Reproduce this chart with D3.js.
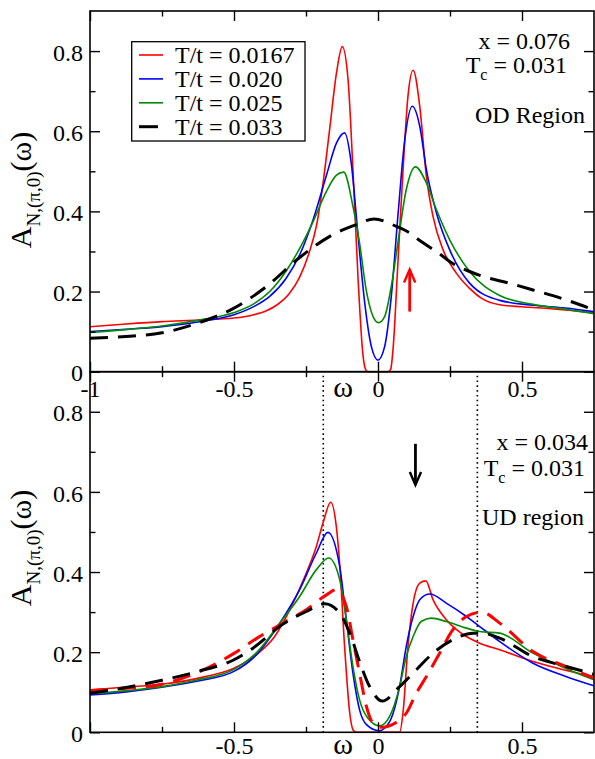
<!DOCTYPE html>
<html>
<head>
<meta charset="utf-8">
<script src="https://cdn.jsdelivr.net/npm/d3@7"></script>
<style>
  body { margin: 0; background: #fff; }
  svg { display: block; }
  svg text { font-family: "Liberation Serif", "Tinos", "Times New Roman", "Times", "Nimbus Roman", "DejaVu Serif", "Noto Serif", serif !important; fill: #000; }
</style>
</head>
<body>
<svg id="chart" width="595" height="759"></svg>
<script>
// ---- axis ticks -------------------------------------------------------
const xMajor = [-1, -0.5, 0, 0.5];
const xMinor = [-0.75, -0.25, 0.25];
const yMajor = [0, 0.2, 0.4, 0.6, 0.8];
const yMinor = [0.1, 0.3, 0.5, 0.7];
const xLabelsTop = ["-1", "-0.5", "0", "0.5"];
const xLabelValsBottom = [-0.5, 0, 0.5];
const xLabelsBottom = ["-0.5", "0", "0.5"];
const yLabels = ["0", "0.2", "0.4", "0.6", "0.8"];

// ---- legend -------------------------------------------------------------
const legendNames = ["T/t = 0.0167", "T/t = 0.020", "T/t = 0.025", "T/t = 0.033"];
const seriesColors = ["#ff0000", "#0000ff", "#008b00", "#000000"];

// ---- OD region (x = 0.076) : [omega, A] --------------------------------
const odT0167 = [[-1,0.112],[-0.875,0.119],[-0.75,0.125],[-0.625,0.129],[-0.5,0.134],[-0.4375,0.141],
  [-0.3875,0.152],[-0.35,0.167],[-0.31,0.193],[-0.272,0.236],[-0.24,0.295],[-0.212,0.37],[-0.19,0.475],
  [-0.168,0.604],[-0.144,0.746],[-0.124,0.811],[-0.104,0.729],[-0.087,0.504],[-0.069,0.229],
  [-0.052,0.04],[-0.042,0.004],[-0.035,0],[0.035,0],[0.044,0.006],[0.052,0.054],[0.069,0.27],[0.087,0.504],
  [0.104,0.687],[0.122,0.752],[0.145,0.662],[0.168,0.4875],[0.191,0.3875],[0.226,0.304],[0.272,0.246],
  [0.318,0.208],[0.36,0.183],[0.4226,0.167],[0.5,0.162],[0.6,0.157],[0.75,0.147]];
const odT020 = [[-1,0.1],[-0.875,0.106],[-0.75,0.1125],[-0.625,0.124],[-0.5,0.142],[-0.43,0.163],
  [-0.376,0.188],[-0.32,0.232],[-0.27,0.295],[-0.225,0.38],[-0.179,0.49],[-0.144,0.571],[-0.116,0.596],[-0.093,0.521],
  [-0.069,0.3375],[-0.046,0.171],[-0.023,0.0625],[0,0.029],[0.023,0.0625],[0.046,0.1875],[0.069,0.3875],
  [0.093,0.579],[0.119,0.6625],[0.145,0.6125],[0.168,0.504],[0.203,0.396],[0.249,0.304],[0.318,0.221],
  [0.4226,0.178],[0.538,0.166],[0.65,0.159],[0.75,0.15]];
const odT025 = [[-1,0.098],[-0.875,0.105],[-0.75,0.114],[-0.625,0.128],[-0.5,0.1475],[-0.43,0.17],
  [-0.376,0.2],[-0.32,0.25],[-0.27,0.31],[-0.225,0.375],[-0.179,0.45],[-0.145,0.49],[-0.119,0.498],[-0.087,0.4125],
  [-0.064,0.321],[-0.041,0.204],[-0.017,0.1375],[0.002,0.1225],[0.023,0.1375],[0.046,0.2125],[0.069,0.321],
  [0.098,0.454],[0.13,0.511],[0.168,0.471],[0.203,0.404],[0.249,0.329],[0.318,0.25],[0.4226,0.19],
  [0.538,0.168],[0.65,0.156],[0.75,0.145]];
const odT033 = [[-1,0.0835],[-0.875,0.088],[-0.75,0.097],[-0.619,0.123],[-0.5,0.1585],[-0.3875,0.2125],
  [-0.272,0.285],[-0.157,0.342],[-0.075,0.367],[-0.014,0.381],[0.064,0.3625],[0.11,0.346],[0.133,0.3335],
  [0.226,0.2875],[0.249,0.275],[0.318,0.25],[0.365,0.2375],[0.45,0.222],[0.538,0.204],[0.65,0.18],[0.75,0.154]];

// ---- UD region (x = 0.034) : [omega, A] --------------------------------
const udT0167 = [[-1,0.106],[-0.875,0.113],[-0.75,0.12],[-0.6,0.139],[-0.5,0.16],[-0.42,0.195],[-0.36,0.238],
  [-0.3,0.315],[-0.249,0.3975],[-0.214,0.464],[-0.191,0.5225],[-0.164,0.574],[-0.145,0.515],[-0.133,0.42],
  [-0.116,0.214],[-0.098,0.0475],[-0.086,0.005],[-0.075,0],[0.075,0],[0.087,0.05],[0.104,0.214],[0.122,0.3225],
  [0.145,0.3725],[0.166,0.378],[0.191,0.331],[0.237,0.281],[0.307,0.239],[0.353,0.2225],[0.4226,0.206],
  [0.538,0.1765],[0.65,0.155],[0.75,0.139]];
const udT020 = [[-1,0.093],[-0.875,0.101],[-0.75,0.1125],[-0.625,0.128],[-0.5,0.152],[-0.42,0.195],
  [-0.341,0.2725],[-0.272,0.356],[-0.214,0.4475],[-0.174,0.499],[-0.133,0.414],[-0.11,0.281],[-0.087,0.1475],
  [-0.064,0.056],[-0.04,0.019],[0.0035,0.004],[0.04,0.026],[0.075,0.114],[0.098,0.214],[0.122,0.289],
  [0.145,0.331],[0.18,0.345],[0.237,0.3225],[0.307,0.289],[0.353,0.264],[0.4226,0.2265],[0.538,0.1725],
  [0.65,0.14],[0.75,0.116]];
const udT025 = [[-1,0.096],[-0.875,0.104],[-0.75,0.114],[-0.625,0.131],[-0.5,0.157],[-0.42,0.2],
  [-0.341,0.2725],[-0.272,0.339],[-0.214,0.406],[-0.171,0.435],[-0.133,0.381],[-0.11,0.281],[-0.087,0.164],
  [-0.064,0.081],[-0.035,0.035],[0.006,0.016],[0.04,0.039],[0.075,0.114],[0.098,0.189],[0.122,0.239],
  [0.15,0.2765],[0.185,0.285],[0.237,0.2765],[0.307,0.26],[0.353,0.2515],[0.4226,0.2475],[0.538,0.1975],
  [0.65,0.16],[0.75,0.131]];
const udT033 = [[-1,0.0975],[-0.875,0.112],[-0.75,0.13],[-0.625,0.152],[-0.5,0.181],[-0.434,0.21],[-0.33,0.27],
  [-0.249,0.3015],[-0.185,0.321],[-0.133,0.2975],[-0.098,0.2475],[-0.064,0.1765],[-0.029,0.114],[0.015,0.078],
  [0.075,0.114],[0.133,0.156],[0.191,0.1975],[0.26,0.231],[0.33,0.2475],[0.36,0.2475],[0.4226,0.235],
  [0.538,0.189],[0.65,0.165],[0.75,0.145]];
// second (red, dashed) curve shown only in the UD panel
const udT0167b = [[-1,0.104],[-0.875,0.11],[-0.75,0.12],[-0.625,0.15],[-0.5,0.197],[-0.42,0.235],[-0.33,0.2725],
  [-0.249,0.306],[-0.179,0.343],[-0.145,0.356],[-0.11,0.314],[-0.087,0.231],[-0.064,0.1475],[-0.04,0.064],
  [-0.017,0.0225],[0.012,0.0125],[0.064,0.025],[0.098,0.0475],[0.133,0.0975],[0.168,0.139],[0.214,0.1975],
  [0.26,0.256],[0.307,0.289],[0.36,0.30],[0.4226,0.2725],[0.538,0.2015],[0.65,0.165],[0.75,0.135]];

// vertical reference lines in the UD panel
const udMarkers = [-0.19, 0.345];

// ---- layout -------------------------------------------------------------
const FONT = "'Liberation Serif','Tinos','Times New Roman','Times','Nimbus Roman','DejaVu Serif','Noto Serif',serif";
const svg = d3.select("#chart").attr("font-family", FONT);
const left = 90, right = 594;
const x = d3.scaleLinear().domain([-1, 0.75]).range([left, right]);
const panels = [
  { top: 11, bottom: 371.7, id: "od", labelPad: 8 },
  { top: 371.7, bottom: 732.3, id: "ud", labelPad: 5 }
];
panels.forEach(p => { p.y = d3.scaleLinear().domain([0, 0.9]).range([p.bottom, p.top]); });

const defs = svg.append("defs");
panels.forEach(p => {
  defs.append("clipPath").attr("id", "clip-" + p.id)
    .append("rect").attr("x", left).attr("y", p.top - 1)
    .attr("width", right - left).attr("height", p.bottom - p.top + 2);
});

const MAJ = 10, MIN = 5.5;
function styleAxis(g, fontSize) {
  g.attr("font-family", FONT);
  g.select(".domain").remove();
  g.selectAll(".tick line").attr("stroke", "#000").attr("stroke-width", 1.4);
  g.selectAll(".tick text").attr("font-size", fontSize).attr("font-family", FONT).attr("fill", "#000");
}

function drawFrame(p, xLabelVals, xLabels) {
  const g = svg.append("g");
  const y = p.y;
  // bottom edge
  g.append("g").attr("transform", `translate(0,${p.bottom})`)
    .call(d3.axisBottom(x).tickValues(xMajor).tickSize(-MAJ).tickFormat(""))
    .call(a => styleAxis(a, 24));
  g.append("g").attr("transform", `translate(0,${p.bottom})`)
    .call(d3.axisBottom(x).tickValues(xMinor).tickSize(-MIN).tickFormat(""))
    .call(a => styleAxis(a, 24));
  g.append("g").attr("transform", `translate(0,${p.bottom})`)
    .call(d3.axisBottom(x).tickValues(xLabelVals).tickSize(0).tickPadding(p.labelPad)
      .tickFormat((d, i) => xLabels[i]))
    .call(a => styleAxis(a, 24));
  // top edge
  g.append("g").attr("transform", `translate(0,${p.top})`)
    .call(d3.axisTop(x).tickValues(xMajor).tickSize(-MAJ).tickFormat(""))
    .call(a => styleAxis(a, 24));
  g.append("g").attr("transform", `translate(0,${p.top})`)
    .call(d3.axisTop(x).tickValues(xMinor).tickSize(-MIN).tickFormat(""))
    .call(a => styleAxis(a, 24));
  // left edge
  g.append("g").attr("transform", `translate(${left},0)`)
    .call(d3.axisLeft(y).tickValues(yMajor).tickSize(-MAJ).tickPadding(7)
      .tickFormat((d, i) => yLabels[i]))
    .call(a => styleAxis(a, 24))
    .call(a => a.selectAll(".tick text").attr("dy", "0.38em"));
  g.append("g").attr("transform", `translate(${left},0)`)
    .call(d3.axisLeft(y).tickValues(yMinor).tickSize(-MIN).tickFormat(""))
    .call(a => styleAxis(a, 24));
  // right edge
  g.append("g").attr("transform", `translate(${right},0)`)
    .call(d3.axisRight(y).tickValues(yMajor).tickSize(-MAJ).tickFormat(""))
    .call(a => styleAxis(a, 24));
  g.append("g").attr("transform", `translate(${right},0)`)
    .call(d3.axisRight(y).tickValues(yMinor).tickSize(-MIN).tickFormat(""))
    .call(a => styleAxis(a, 24));
  // frame
  g.append("rect").attr("x", left).attr("y", p.top)
    .attr("width", right - left).attr("height", p.bottom - p.top)
    .attr("fill", "none").attr("stroke", "#000").attr("stroke-width", 1.6);
}

function drawCurve(p, data, color, dashed) {
  const line = d3.line().x(d => x(d[0])).y(d => p.y(d[1])).curve(d3.curveMonotoneX);
  svg.append("path").attr("clip-path", `url(#clip-${p.id})`)
    .attr("d", line(data)).attr("fill", "none").attr("stroke", color)
    .attr("stroke-width", dashed ? 3 : 1.6)
    .attr("stroke-dasharray", dashed ? "18,10" : null)
    .attr("stroke-linejoin", "round");
}

function yTitle(cy) {
  const t = svg.append("text").attr("transform", `translate(31,${cy}) rotate(-90)`)
    .attr("text-anchor", "middle").attr("font-size", 30).attr("font-family", FONT);
  t.append("tspan").text("A");
  t.append("tspan").attr("font-size", 19).attr("dy", 8.5).text("N,(π,0)");
  t.append("tspan").attr("dy", -8.5).text("(ω)");
}

function noteBlock(lines) {
  lines.forEach(l => {
    const t = svg.append("text").attr("x", l.x).attr("y", l.y).attr("font-family", FONT)
      .attr("font-size", 24).attr("text-anchor", l.anchor || "start");
    if (l.sub) {
      t.append("tspan").text(l.main);
      t.append("tspan").attr("font-size", 16).attr("dy", 7).text(l.sub);
      t.append("tspan").attr("dy", -7).text(l.rest);
    } else {
      t.text(l.main);
    }
  });
}

const pOD = panels[0], pUD = panels[1];

// dotted reference lines in the UD panel
udMarkers.forEach(m => {
  svg.append("line").attr("x1", x(m)).attr("x2", x(m))
    .attr("y1", pUD.y(0.9) + 4).attr("y2", pUD.y(0))
    .attr("stroke", "#000").attr("stroke-width", 1.6).attr("stroke-dasharray", "1.6,3.2");
});

// spectra, OD panel
drawCurve(pOD, odT0167, seriesColors[0], false);
drawCurve(pOD, odT020, seriesColors[1], false);
drawCurve(pOD, odT025, seriesColors[2], false);
drawCurve(pOD, odT033, seriesColors[3], true);

// spectra, UD panel
drawCurve(pUD, udT0167, seriesColors[0], false);
drawCurve(pUD, udT020, seriesColors[1], false);
drawCurve(pUD, udT025, seriesColors[2], false);
drawCurve(pUD, udT0167b, seriesColors[0], true);
drawCurve(pUD, udT033, seriesColors[3], true);

drawFrame(pOD, xMajor, xLabelsTop);
drawFrame(pUD, xLabelValsBottom, xLabelsBottom);

// omega axis titles
panels.forEach(p => {
  svg.append("text").attr("x", 343).attr("y", p.bottom + p.labelPad + 17)
    .attr("text-anchor", "middle").attr("font-size", 30).attr("font-family", FONT).text("ω");
});

yTitle(190);
yTitle(548);

// legend
const lg = svg.append("g");
lg.append("rect").attr("x", 131.7).attr("y", 41.7).attr("width", 173.3).attr("height", 99.3)
  .attr("fill", "#fff").attr("stroke", "#000").attr("stroke-width", 1.3);
legendNames.forEach((name, i) => {
  const yy = 55 + i * 23.9;
  lg.append("line").attr("x1", 139).attr("x2", 163).attr("y1", yy).attr("y2", yy)
    .attr("stroke", seriesColors[i]).attr("stroke-width", i === 3 ? 3 : 1.6)
    .attr("stroke-dasharray", i === 3 ? "19,10" : null);
  lg.append("text").attr("x", 175).attr("y", yy + 8.3).attr("font-size", 24)
    .attr("font-family", FONT).text(name);
});

// panel notes
noteBlock([
  { x: 570, y: 48.5, main: "x = 0.076", anchor: "end" },
  { x: 567, y: 72.7, main: "T", sub: "c", rest: " = 0.031", anchor: "end" },
  { x: 475, y: 122.7, main: "OD Region" }
]);
noteBlock([
  { x: 588, y: 450, main: "x = 0.034", anchor: "end" },
  { x: 585, y: 476, main: "T", sub: "c", rest: " = 0.031", anchor: "end" },
  { x: 482, y: 525, main: "UD region" }
]);

// arrows
function arrow(p, xv, yFrom, yTo, color) {
  const x0 = x(xv), y0 = p.y(yFrom), y1 = p.y(yTo);
  const dir = Math.sign(y1 - y0);
  svg.append("line").attr("x1", x0).attr("x2", x0).attr("y1", y0).attr("y2", y1 - dir * 1.5)
    .attr("stroke", color).attr("stroke-width", 2.8);
  svg.append("path")
    .attr("d", `M${x0 - 5.6},${y1 - dir * 13} L${x0},${y1} L${x0 + 5.6},${y1 - dir * 13}`)
    .attr("fill", "none").attr("stroke", color).attr("stroke-width", 2.4);
}
arrow(pOD, 0.11, 0.15, 0.255, "#ff0000");
arrow(pUD, 0.13, 0.72, 0.617, "#000000");
</script>
</body>
</html>
